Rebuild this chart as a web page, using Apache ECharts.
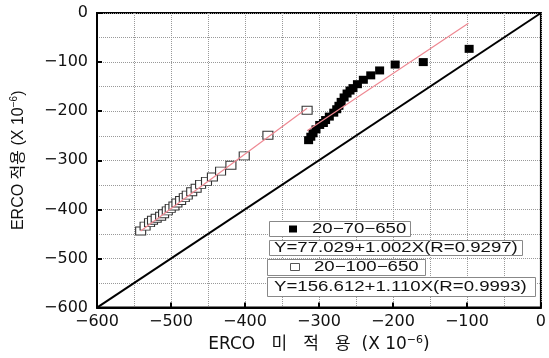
<!DOCTYPE html>
<html>
<head>
<meta charset="utf-8">
<script src="https://cdn.jsdelivr.net/npm/echarts@6/dist/echarts.min.js"></script>
<style>
  html, body { margin: 0; padding: 0; background: #fff; }
  #chart { width: 549px; height: 358px; }
</style>
</head>
<body>
<div id="chart"></div>
<script>
// 축 범위 (X 10^-6)
const axisMin = -600
const axisMax = 0
const axisStep = 100

const seriesNames = ['20-70-650', '20-100-650']
const equations = ['Y=77.029+1.002X(R=0.9297)', 'Y=156.612+1.110X(R=0.9993)']

// 20-70-650 : [ERCO 미적용, ERCO 적용]
const filledPoints = [
  [-314, -259], [-311, -252], [-308, -245], [-304, -237], [-299, -228],
  [-294, -224], [-291, -218], [-286, -211], [-280, -203], [-276, -196],
  [-273, -189], [-270, -181], [-266, -172], [-262, -164], [-258, -158],
  [-254, -153], [-248, -145], [-240, -136], [-230, -127], [-218, -117],
  [-197, -105], [-159, -100], [-97, -73]
]
// 20-100-650
const openPoints = [
  [-541, -444], [-535, -434], [-529, -427], [-525, -422], [-520, -418],
  [-514, -414], [-510, -409], [-505, -403], [-501, -398], [-496, -393],
  [-492, -387], [-487, -382], [-482, -376], [-478, -371], [-472, -364],
  [-466, -357], [-460, -349], [-452, -343], [-444, -334], [-433, -322],
  [-419, -310], [-401, -291], [-369, -249], [-316, -198]
]
// 회귀선 끝점
const filledFit = [[-316, -240], [-98, -21]]
const openFit = [[-541, -444], [-316, -194]]
// Y = X 기준선
const equalLine = [[-600, -600], [0, 0]]

const minus = v => String(v).replace('-', '\u2212')

const tickFont = '"DejaVu Sans", "Noto Sans CJK KR"'
const axisCommon = {
  type: 'value',
  min: axisMin,
  max: axisMax,
  interval: axisStep,
  axisLine: { show: true, onZero: false, lineStyle: { color: '#000', width: 2 } },
  axisTick: { show: true, inside: true, length: 5, lineStyle: { color: '#000', width: 2 } },
  splitLine: { show: true, lineStyle: { color: '#999', type: 'dotted', width: 1 } },
  minorTick: { show: false, splitNumber: 2 },
  minorSplitLine: { show: true, lineStyle: { color: '#999', type: 'dotted', width: 1 } }
}

const chart = echarts.init(document.getElementById('chart'))

// 범례 상자 (텍스트 상자 네 개)
const legendText = (x, y, text) => ({
  type: 'text',
  x: x,
  y: y,
  scaleX: 1.33,
  z: 100,
  style: {
    text: text,
    fill: '#111',
    font: '14px "Liberation Sans"',
    verticalAlign: 'middle'
  }
})
const legendBox = (x, y, w, h) => ({
  type: 'rect',
  z: 99,
  shape: { x: x, y: y, width: w, height: h },
  style: { fill: '#fff', stroke: '#888', lineWidth: 1 }
})

const option = {
  animation: false,
  backgroundColor: '#fff',
  grid: {
    show: true,
    left: 97,
    right: 7,
    top: 13,
    bottom: 45,
    borderColor: '#000',
    borderWidth: 2,
    backgroundColor: 'transparent'
  },
  xAxis: Object.assign({}, axisCommon, {
    position: 'bottom',
    name: 'ERCO   미   적   용  (X 10{sup|\u22126})',
    nameLocation: 'middle',
    nameGap: 22,
    nameTextStyle: {
      fontFamily: tickFont,
      fontSize: 17,
      color: '#111',
      rich: { sup: { fontSize: 11, fontFamily: tickFont, color: '#111', padding: [0, 0, 9, 0] } }
    },
    axisLabel: { margin: 6, color: '#111', fontSize: 16, fontFamily: tickFont, formatter: minus }
  }),
  yAxis: Object.assign({}, axisCommon, {
    position: 'left',
    name: 'ERCO 적용 (X 10{sup|\u22126})',
    nameLocation: 'middle',
    nameGap: 69,
    nameTextStyle: {
      fontFamily: '"Liberation Sans", "Noto Sans CJK KR"',
      fontSize: 16,
      color: '#111',
      rich: { sup: { fontSize: 10, fontFamily: '"Liberation Sans"', color: '#111', padding: [0, 0, 9, 0] } }
    },
    axisLabel: { margin: 9, color: '#111', fontSize: 16, fontFamily: tickFont, formatter: minus }
  }),
  series: [
    {
      name: 'Y=X',
      type: 'line',
      data: equalLine,
      symbol: 'none',
      lineStyle: { color: '#000', width: 2 },
      z: 2
    },
    {
      name: seriesNames[1],
      type: 'scatter',
      data: openPoints,
      symbol: 'rect',
      symbolSize: [10, 8],
      itemStyle: { color: '#fff', borderColor: '#333', borderWidth: 1, opacity: 1 },
      z: 3
    },
    {
      name: seriesNames[0],
      type: 'scatter',
      data: filledPoints,
      symbol: 'rect',
      symbolSize: [9, 8],
      itemStyle: { color: '#000', opacity: 1 },
      z: 3
    },
    {
      name: 'fit open',
      type: 'line',
      data: openFit,
      symbol: 'none',
      lineStyle: { color: '#ee8892', width: 1.2 },
      z: 4
    },
    {
      name: 'fit filled',
      type: 'line',
      data: filledFit,
      symbol: 'none',
      lineStyle: { color: '#ee8892', width: 1.2 },
      z: 4
    }
  ],
  graphic: [
    legendBox(269.5, 221.5, 141, 15),
    { type: 'rect', z: 100, shape: { x: 289, y: 225.5, width: 8, height: 7 }, style: { fill: '#000' } },
    legendText(312, 229.5, seriesNames[0].replace(/-/g, '\u2212')),
    legendBox(269.5, 240.5, 253, 15),
    legendText(274, 248, equations[0]),
    legendBox(267.5, 259.5, 158, 16),
    { type: 'rect', z: 100, shape: { x: 290.5, y: 263.5, width: 9, height: 7 }, style: { fill: '#fff', stroke: '#555', lineWidth: 1 } },
    legendText(314, 267.5, seriesNames[1].replace(/-/g, '\u2212')),
    legendBox(267.5, 277.5, 268, 19),
    legendText(274, 287, equations[1])
  ]
}

chart.setOption(option)
</script>
</body>
</html>
